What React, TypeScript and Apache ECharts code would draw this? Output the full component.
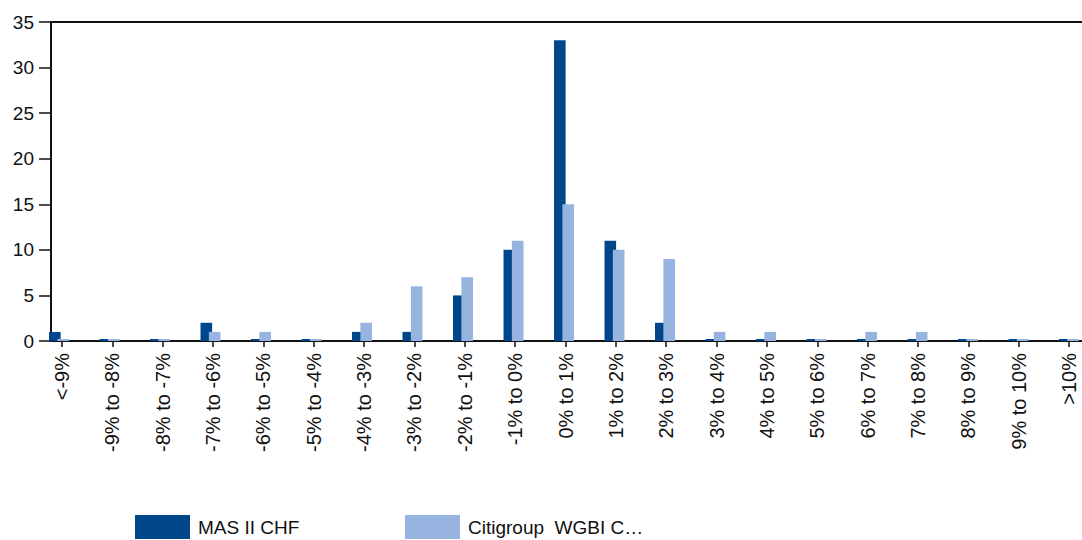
import React, { useEffect, useRef } from "react";
import * as echarts from "echarts";

const categories = [
  "<-9%", "-9% to -8%", "-8% to -7%", "-7% to -6%", "-6% to -5%", "-5% to -4%",
  "-4% to -3%", "-3% to -2%", "-2% to -1%", "-1% to 0%", "0% to 1%", "1% to 2%",
  "2% to 3%", "3% to 4%", "4% to 5%", "5% to 6%", "6% to 7%", "7% to 8%",
  "8% to 9%", "9% to 10%", ">10%",
];
const masValues = [1, 0, 0, 2, 0, 0, 1, 1, 5, 10, 33, 11, 2, 0, 0, 0, 0, 0, 0, 0, 0];
const citiValues = [0, 0, 0, 1, 1, 0, 2, 6, 7, 11, 15, 10, 9, 1, 1, 0, 1, 1, 0, 0, 0];
const seriesNames = ["MAS II CHF", "Citigroup  WGBI C…"];
const yTicks = { min: 0, max: 35, interval: 5 };

const FONT = "'Liberation Sans', Arial, sans-serif";
const INK = "#111111";

export default function App() {
  const ref = useRef<HTMLDivElement>(null);
  useEffect(() => {
    if (!ref.current) return;
    const chart = echarts.init(ref.current, undefined, { renderer: "svg" });
    const top = 22;
    const bottom = 199;
    const legendBase = {
      top: 515, padding: 0, itemWidth: 55, itemHeight: 24, icon: "rect",
      textStyle: { fontSize: 19, color: INK, fontFamily: FONT, padding: [0, 0, 0, 3] },
    };
    chart.setOption({
      animation: false,
      textStyle: { fontFamily: FONT },
      grid: [
        { left: 59, right: 13, top, bottom },
        { left: 51, right: -5, top, bottom },
        { left: 62, right: 13, top, bottom },
      ],
      xAxis: [
        { type: "category", gridIndex: 0, data: categories, boundaryGap: false, show: false },
        {
          type: "value", gridIndex: 1, position: "bottom",
          axisLine: { show: true, onZero: false, lineStyle: { color: INK, width: 2 } },
          axisTick: { show: false }, axisLabel: { show: false }, splitLine: { show: false },
        },
        {
          type: "value", gridIndex: 1, position: "top",
          axisLine: { show: true, onZero: false, lineStyle: { color: INK, width: 2 } },
          axisTick: { show: false }, axisLabel: { show: false }, splitLine: { show: false },
        },
        {
          type: "category", gridIndex: 2, data: categories, boundaryGap: false,
          axisLine: { show: false },
          axisTick: { show: true, interval: 0, length: 6, lineStyle: { color: INK, width: 1.5 } },
          axisLabel: {
            interval: 0, rotate: 90, margin: 12, fontSize: 20, color: INK, fontFamily: FONT,
          },
          splitLine: { show: false },
        },
      ],
      yAxis: [
        { type: "value", gridIndex: 0, ...yTicks, show: false },
        {
          type: "value", gridIndex: 1, ...yTicks,
          axisLine: { show: true, onZero: false, lineStyle: { color: INK, width: 2 } },
          axisTick: { show: true, length: 12, lineStyle: { color: INK, width: 1.5 } },
          axisLabel: { margin: 17, fontSize: 19, color: INK, fontFamily: FONT },
          splitLine: { show: false },
        },
        { type: "value", gridIndex: 2, ...yTicks, show: false },
      ],
      legend: [
        { ...legendBase, left: 135, data: [seriesNames[0]] },
        { ...legendBase, left: 405, data: [seriesNames[1]] },
      ],
      series: [
        {
          name: seriesNames[0], type: "bar", xAxisIndex: 0, yAxisIndex: 0,
          data: masValues, barWidth: 11.6, barGap: "-28%", barMinHeight: 2,
          itemStyle: { color: "#00468A" },
        },
        {
          name: seriesNames[1], type: "bar", xAxisIndex: 0, yAxisIndex: 0,
          data: citiValues, barWidth: 11.6, barGap: "-28%", barMinHeight: 2,
          itemStyle: { color: "#96B4DF" },
        },
      ],
    });
    return () => chart.dispose();
  }, []);
  return (
    <div
      ref={ref}
      style={{ position: "absolute", left: 0, top: 0, width: 1082, height: 540, background: "#fff" }}
    />
  );
}
